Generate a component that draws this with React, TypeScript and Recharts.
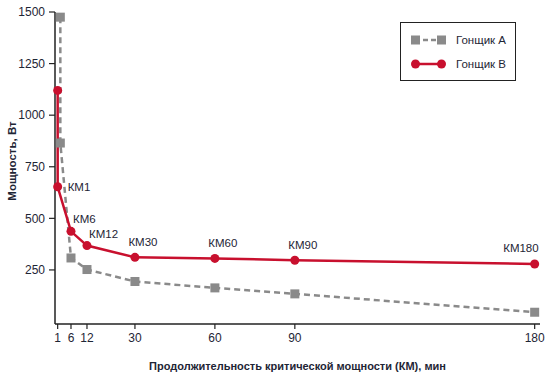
import React from "react";
import { LineChart, Line, XAxis, YAxis, Legend, LabelList } from "recharts";

const minuteTicks = [1, 6, 12, 30, 60, 90, 180];
const powerTicks = [250, 500, 750, 1000, 1250, 1500];

// Гонщик А
const minutesA = [2, 2, 6, 12, 30, 60, 90, 180];
const powerA = [1475, 865, 308, 252, 194, 163, 134, 45];

// Гонщик В
const minutesB = [1, 1, 6, 12, 30, 60, 90, 180];
const powerB = [1120, 653, 437, 368, 311, 306, 297, 279];
const labelsB = ["", "КМ1", "КМ6", "КМ12", "КМ30", "КМ60", "КМ90", "КМ180"];

const seriesNames = ["Гонщик А", "Гонщик В"];

const dataA = minutesA.map((m, i) => ({ x: m, y: powerA[i] }));
const dataB = minutesB.map((m, i) => ({ x: m, y: powerB[i], label: labelsB[i] }));

const FONT = "'Liberation Sans', Arial, sans-serif";
const GREY = "#8a8a8a";
const RED = "#c8102e";
const INK = "#1e2535";

const SquareDot = (props: any) => {
  const { cx, cy } = props;
  if (cx == null || cy == null) return null;
  return <rect x={cx - 4.5} y={cy - 4.5} width={9} height={9} fill={GREY} />;
};

// label placement relative to the point, per label
const labelPlace = (i: number, x: number, y: number) => {
  if (i === 1) return { x: x + 10, y: y, anchor: "start" };
  if (i === 2 || i === 3) return { x: x + 2, y: y - 12, anchor: "start" };
  if (i === 7) return { x: x + 4, y: y - 16, anchor: "end" };
  return { x: x + 8, y: y - 15, anchor: "middle" };
};

const PointLabel = (props: any) => {
  const { x, y, value, index } = props;
  if (!value) return null;
  const p = labelPlace(index, x, y);
  return (
    <text x={p.x} y={p.y} textAnchor={p.anchor} dominantBaseline="central" fontSize={11.5} fill={INK} fontFamily={FONT}>
      {value}
    </text>
  );
};

const LegendBox = () => (
  <div
    style={{
      border: "1.5px solid #222",
      background: "#fff",
      width: 116,
      height: 59,
      boxSizing: "border-box",
      fontFamily: FONT,
      fontSize: 11.5,
      color: INK,
      paddingTop: 5,
      paddingLeft: 10,
      whiteSpace: "nowrap",
    }}
  >
    <div style={{ display: "flex", alignItems: "center", height: 24 }}>
      <svg width={36} height={12} style={{ marginRight: 9 }}>
        <line x1={4} y1={6} x2={32} y2={6} stroke={GREY} strokeWidth={2.5} strokeDasharray="5 3" />
        <rect x={0} y={1.5} width={9} height={9} fill={GREY} />
        <rect x={26} y={1.5} width={9} height={9} fill={GREY} />
      </svg>
      <span>{seriesNames[0]}</span>
    </div>
    <div style={{ display: "flex", alignItems: "center", height: 24 }}>
      <svg width={36} height={12} style={{ marginRight: 9 }}>
        <line x1={4} y1={6} x2={30} y2={6} stroke={RED} strokeWidth={2.5} />
        <circle cx={4.5} cy={6} r={4.5} fill={RED} />
        <circle cx={30.5} cy={6} r={4.5} fill={RED} />
      </svg>
      <span>{seriesNames[1]}</span>
    </div>
  </div>
);

const YTitle = (props: any) => {
  const vb = props.viewBox || { x: 0, y: 12, width: 55, height: 312 };
  const x = vb.x + 12;
  const y = vb.y + vb.height / 2 - 7;
  return (
    <text
      x={x}
      y={y}
      transform={`rotate(-90, ${x}, ${y})`}
      textAnchor="middle"
      dominantBaseline="central"
      fontSize={11.5}
      fontWeight="bold"
      fill={INK}
      fontFamily={FONT}
    >
      Мощность, Вт
    </text>
  );
};

const XTitle = (props: any) => {
  const vb = props.viewBox || { x: 55, y: 324, width: 485, height: 45 };
  return (
    <text
      x={vb.x + vb.width / 2}
      y={366}
      textAnchor="middle"
      dominantBaseline="central"
      fontSize={11}
      fontWeight="bold"
      fill={INK}
      fontFamily={FONT}
    >
      Продолжительность критической мощности (КМ), мин
    </text>
  );
};

export default function App() {
  return (
    <div style={{ position: "absolute", left: 0, top: 0, width: 546, height: 375, background: "#fff" }}>
      <LineChart width={546} height={375} margin={{ top: 12, right: 6, left: 0, bottom: 0 }}>
        <XAxis
          type="number"
          dataKey="x"
          domain={[0, 182]}
          ticks={minuteTicks}
          interval={0}
          allowDuplicatedCategory={false}
          height={51}
          tickSize={5}
          tickMargin={4}
          axisLine={{ stroke: "#222", strokeWidth: 1.5 }}
          tickLine={{ stroke: "#222", strokeWidth: 1.2 }}
          tick={{ fontSize: 12, fill: INK, fontFamily: FONT }}
          label={<XTitle />}
        />
        <YAxis
          type="number"
          dataKey="y"
          domain={[-12, 1500]}
          ticks={powerTicks}
          interval={0}
          width={55}
          tickSize={6}
          tickMargin={4}
          axisLine={{ stroke: "#222", strokeWidth: 1.5 }}
          tickLine={{ stroke: "#222", strokeWidth: 1.2 }}
          tick={{ fontSize: 12, fill: INK, fontFamily: FONT }}
          label={<YTitle />}
        />
        <Legend
          layout="horizontal"
          align="center"
          verticalAlign="middle"
          content={<LegendBox />}
          wrapperStyle={{ left: 400, top: 22, width: 116, height: 59 }}
        />
        <Line
          data={dataA}
          dataKey="y"
          name={seriesNames[0]}
          stroke={GREY}
          strokeWidth={2.5}
          strokeDasharray="6 4"
          dot={<SquareDot />}
          activeDot={false}
          isAnimationActive={false}
        />
        <Line
          data={dataB}
          dataKey="y"
          name={seriesNames[1]}
          stroke={RED}
          strokeWidth={2.5}
          dot={{ r: 4.5, fill: RED, stroke: RED, strokeWidth: 0 }}
          activeDot={false}
          isAnimationActive={false}
        >
          <LabelList dataKey="label" content={<PointLabel />} />
        </Line>
      </LineChart>
    </div>
  );
}
